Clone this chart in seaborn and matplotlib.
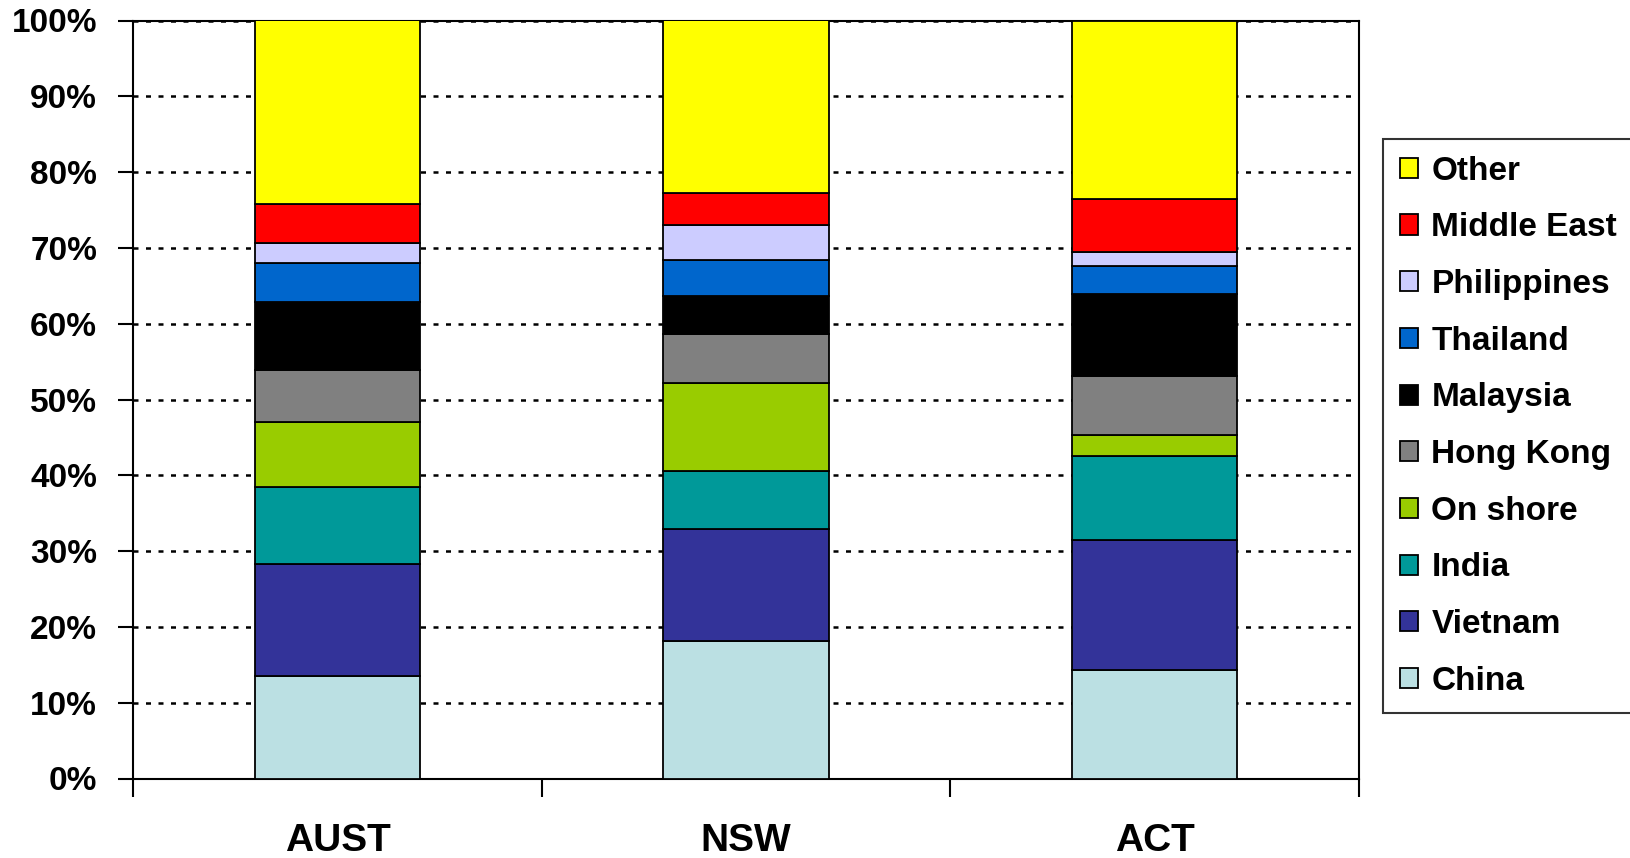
import numpy as np
import pandas as pd
import matplotlib
matplotlib.use("Agg")
import matplotlib.pyplot as plt
import seaborn as sns

# ---- data (segment share, %) ----
states = ["AUST", "NSW", "ACT"]
series = ["China", "Vietnam", "India", "On shore", "Hong Kong",
          "Malaysia", "Thailand", "Philippines", "Middle East", "Other"]
china       = [13.5, 18.1, 14.35]
vietnam     = [14.85, 14.75, 17.05]
india       = [10.15, 7.7, 11.15]
on_shore    = [8.5, 11.65, 2.8]
hong_kong   = [6.85, 6.5, 7.8]
malaysia    = [8.95, 4.9, 10.8]
thailand    = [5.2, 4.8, 3.6]
philippines = [2.6, 4.6, 1.9]
middle_east = [5.25, 4.2, 7.0]
other       = [24.15, 22.8, 23.55]
values = [china, vietnam, india, on_shore, hong_kong,
          malaysia, thailand, philippines, middle_east, other]
colors = ["#BBE0E3", "#333399", "#009999", "#99CC00", "#808080",
          "#000000", "#0066CC", "#CCCCFF", "#FF0000", "#FFFF00"]
ytick_vals = [0, 10, 20, 30, 40, 50, 60, 70, 80, 90, 100]
ytick_labels = ["0%", "10%", "20%", "30%", "40%", "50%", "60%", "70%", "80%", "90%", "100%"]

sns.set_theme(style="white")
plt.rcParams["font.family"] = ["Liberation Sans", "DejaVu Sans"]
plt.rcParams["font.weight"] = "bold"
plt.rcParams["text.color"] = "black"
plt.rcParams["xtick.color"] = "black"
plt.rcParams["ytick.color"] = "black"
plt.rcParams["axes.labelcolor"] = "black"

fig = plt.figure(figsize=(16.31, 8.58), dpi=100)
W, H = 1631, 858
ax = fig.add_axes([133.3 / W, 79.5 / H, (1359 - 133.3) / W, 758 / H])

bottom = np.zeros(len(states))
for name, vals, col in zip(series, values, colors):
    df = pd.DataFrame({"state": states, "share": vals})
    sns.barplot(data=df, x="state", y="share", order=states, color=col,
                width=0.405, edgecolor="black", linewidth=1.3,
                bottom=bottom, ax=ax, label=name, saturation=1, zorder=3)
    bottom = bottom + np.array(vals)

if ax.get_legend() is not None:
    ax.get_legend().remove()

ax.set_xlim(-0.5, 2.5)
ax.set_ylim(0, 100)
ax.set_xlabel("")
ax.set_ylabel("")

# y axis
ax.set_yticks(ytick_vals)
ax.set_yticklabels(ytick_labels)
ax.tick_params(axis="y", which="major", direction="out", length=11, width=1.5,
               pad=15, labelsize=24, left=True, color="black", labelcolor="black")
for lab in ax.get_yticklabels():
    lab.set_fontweight("bold")

# x axis: labels at centers, ticks at boundaries
ax.set_xticks([0, 1, 2])
ax.set_xticklabels(states)
ax.set_xticks([-0.5, 0.5, 1.5, 2.5], minor=True)
ax.tick_params(axis="x", which="major", length=0, pad=32, labelsize=28, labelcolor="black")
ax.tick_params(axis="x", which="minor", direction="out", length=13, width=1.5,
               bottom=True, color="black")
for lab in ax.get_xticklabels():
    lab.set_fontweight("bold")

# grid
ax.yaxis.grid(True, color="black", linestyle=(0, (2.0, 3.0)), linewidth=1.8, zorder=0)
ax.xaxis.grid(False)
ax.set_axisbelow(True)

for s in ax.spines.values():
    s.set_visible(True)
    s.set_color("black")
    s.set_linewidth(1.5)

# legend (top series first)
handles = list(ax.containers)[::-1]
labels = series[::-1]
leg = fig.legend(handles, labels, loc="upper left",
                 bbox_to_anchor=(1383 / W, 1 - 139 / H), borderaxespad=0,
                 prop=dict(weight="bold", size=24, family="Liberation Sans"),
                 frameon=True, fancybox=False, shadow=False,
                 handlelength=0.55, handleheight=0.55, handletextpad=0.4,
                 labelspacing=0.77, borderpad=0.5)
leg.get_frame().set_edgecolor("black")
leg.get_frame().set_linewidth(1.5)
for t in leg.get_texts():
    t.set_color("black")

fig.savefig("out.png", dpi=100, facecolor="white")
